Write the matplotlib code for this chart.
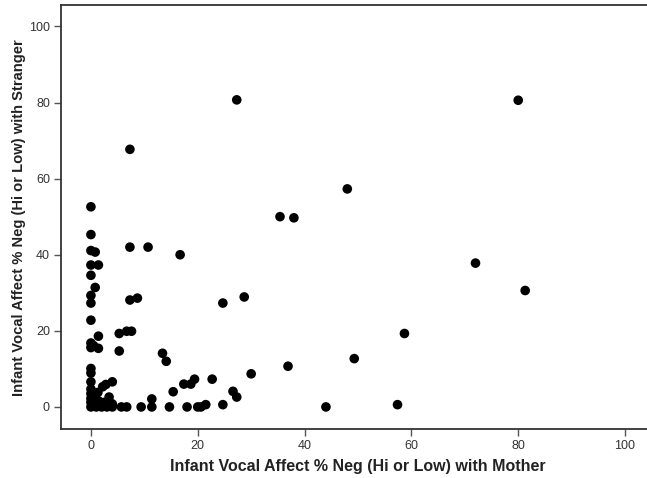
import matplotlib
matplotlib.use("Agg")
import matplotlib.pyplot as plt

# Percent negative vocal affect per infant: with mother (x) and with stranger (y)
mother = [
    27.3, 80.0, 7.3, 48.0, 0.0, 35.4, 38.0, 0.0, 0.0, 0.8,
    7.3, 10.7, 16.7, 72.0, 0.0, 1.4, 0.0, 0.8, 0.0, 81.3,
    28.7, 7.3, 8.7, 0.0, 24.7, 0.0, 58.7, 5.3, 6.7, 7.6,
    1.4, 0.0, 0.5, 0.0, 1.4, 5.3, 13.4, 14.1, 49.3, 36.9,
    0.0, 0.0, 30.0, 0.0, 22.7, 19.4, 18.7, 17.4, 4.0, 2.8,
    2.2, 0.0, 26.6, 27.3, 15.4, 1.3, 3.4, 11.4, 21.5, 24.7,
    57.4, 0.0, 0.0, 0.0, 0.0, 0.6, 0.6, 1.0, 1.5, 2.0,
    2.5, 3.0, 3.4, 4.0, 4.0, 5.7, 6.7, 9.4, 11.4, 14.7,
    18.0, 20.0, 20.6, 44.0,
]
stranger = [
    80.7, 80.6, 67.7, 57.3, 52.6, 50.0, 49.7, 45.3, 41.1, 40.7,
    42.0, 42.0, 40.0, 37.8, 37.3, 37.3, 34.6, 31.4, 29.3, 30.6,
    28.9, 28.1, 28.6, 27.3, 27.3, 22.8, 19.3, 19.3, 19.9, 19.9,
    18.6, 16.8, 16.1, 15.6, 15.4, 14.7, 14.1, 12.0, 12.7, 10.7,
    10.1, 8.9, 8.7, 6.6, 7.3, 7.3, 6.0, 6.0, 6.6, 5.9,
    5.3, 4.7, 4.1, 2.6, 4.0, 3.8, 2.6, 2.1, 0.6, 0.6,
    0.6, 3.5, 2.2, 1.2, 0.0, 2.8, 0.8, 0.0, 1.5, 0.0,
    1.2, 0.0, 1.3, 0.8, 0.0, 0.0, 0.0, 0.0, 0.0, 0.0,
    0.0, 0.0, 0.0, 0.0,
]

xticks = [0, 20, 40, 60, 80, 100]
yticks = [0, 20, 40, 60, 80, 100]
xlabel = "Infant Vocal Affect % Neg (Hi or Low) with Mother"
ylabel = "Infant Vocal Affect % Neg (Hi or Low) with Stranger"

plt.rcParams["font.family"] = ["Liberation Sans", "DejaVu Sans"]

fig = plt.figure(figsize=(6.47, 4.78), dpi=100)
ax = fig.add_axes([0.0943, 0.1025, 0.918, 0.886])

ax.scatter(mother, stranger, s=48, color="black", edgecolors="none", zorder=3)

ax.set_xlim(-5.6, 105.6)
ax.set_ylim(-5.8, 105.5)
ax.set_xticks(xticks)
ax.set_yticks(yticks)

spine_color = "#333333"
for side in ["left", "bottom", "top", "right"]:
    ax.spines[side].set_color(spine_color)
    ax.spines[side].set_linewidth(1.3)

ax.tick_params(axis="both", direction="out", length=5, width=1,
               color="#555555", labelsize=9, labelcolor="#333333", pad=3)

ax.set_xlabel(xlabel, fontsize=11.5, fontweight="bold", color="#222222", labelpad=5)
ax.set_ylabel(ylabel, fontsize=10.6, fontweight="bold", color="#222222", labelpad=2)

fig.savefig("out.png", dpi=100)
